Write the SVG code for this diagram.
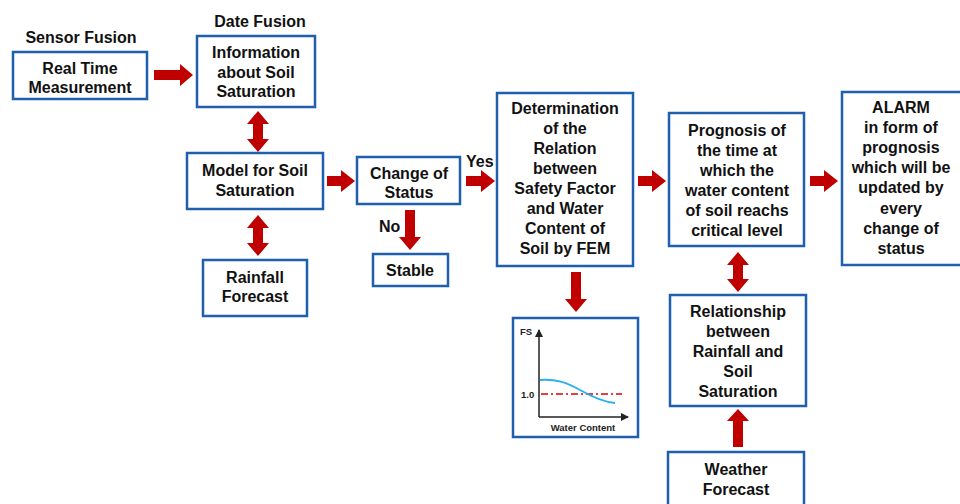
<svg xmlns="http://www.w3.org/2000/svg" width="960" height="504" viewBox="0 0 960 504">
<style>
.box{fill:#fff;stroke:#1f5fae;stroke-width:2.5}
.t{font-family:"Liberation Sans",Arial,sans-serif;font-weight:bold;font-size:16px;fill:#111;text-anchor:middle}
.lbl{font-family:"Liberation Sans",Arial,sans-serif;font-weight:bold;font-size:16px;fill:#111}
.arr{fill:#c00000}
.small{font-family:"Liberation Sans",Arial,sans-serif;font-weight:bold;font-size:9.5px;fill:#222}
</style>
<defs>
<marker id="ah" markerWidth="8" markerHeight="8" refX="7" refY="4" orient="auto" markerUnits="userSpaceOnUse"><path d="M0,0 L8,4 L0,8 Z" fill="#222"/></marker>
</defs>
<rect width="960" height="504" fill="#fff"/>
<text class="t" x="81" y="43">Sensor Fusion</text>
<text class="t" x="260" y="27">Date Fusion</text>
<g id="real-time">
<rect class="box" x="13" y="52" width="134" height="47"/>
<text class="t" x="80" y="74">Real Time</text>
<text class="t" x="80" y="93">Measurement</text>
</g>
<g id="info">
<rect class="box" x="197" y="36" width="118" height="71"/>
<text class="t" x="256" y="58">Information</text>
<text class="t" x="256" y="78">about Soil</text>
<text class="t" x="256" y="97">Saturation</text>
</g>
<g id="model">
<rect class="box" x="187" y="153" width="136" height="56"/>
<text class="t" x="255" y="176">Model for Soil</text>
<text class="t" x="255" y="196">Saturation</text>
</g>
<g id="rainfall">
<rect class="box" x="203" y="260" width="104" height="56"/>
<text class="t" x="255" y="283">Rainfall</text>
<text class="t" x="255" y="302">Forecast</text>
</g>
<g id="change">
<rect class="box" x="357" y="157" width="103" height="47"/>
<text class="t" x="409" y="179">Change of</text>
<text class="t" x="409" y="198">Status</text>
</g>
<g id="stable">
<rect class="box" x="373" y="254" width="75" height="32"/>
<text class="t" x="410" y="276">Stable</text>
</g>
<g id="determination">
<rect class="box" x="497" y="93" width="136" height="173"/>
<text class="t" x="565" y="114">Determination</text>
<text class="t" x="565" y="134">of the</text>
<text class="t" x="565" y="154">Relation</text>
<text class="t" x="565" y="174">between</text>
<text class="t" x="565" y="194">Safety Factor</text>
<text class="t" x="565" y="214">and Water</text>
<text class="t" x="565" y="234">Content of</text>
<text class="t" x="565" y="254">Soil by FEM</text>
</g>
<g id="chart">
<rect class="box" x="513" y="318" width="125" height="119"/>
<line x1="539" y1="417" x2="539" y2="330" stroke="#222" stroke-width="1.5" marker-end="url(#ah)"/>
<line x1="539" y1="417" x2="628" y2="417" stroke="#222" stroke-width="1.5" marker-end="url(#ah)"/>
<line x1="541" y1="394" x2="622" y2="394" stroke="#e00000" stroke-width="1.6" stroke-dasharray="7,3,2,3"/>
<path d="M540,380 C556,379 566,382 580,390 C594,398 604,402 615,403" fill="none" stroke="#2ab0ee" stroke-width="2"/>
<text class="small" x="520" y="335">FS</text>
<text class="small" x="521" y="398">1.0</text>
<text class="small" x="583" y="431" text-anchor="middle">Water Content</text>
</g>
<g id="prognosis">
<rect class="box" x="669" y="113" width="135" height="133"/>
<text class="t" x="737" y="136">Prognosis of</text>
<text class="t" x="737" y="156">the time at</text>
<text class="t" x="737" y="176">which the</text>
<text class="t" x="737" y="196">water content</text>
<text class="t" x="737" y="216">of soil reachs</text>
<text class="t" x="737" y="236">critical level</text>
</g>
<g id="relationship">
<rect class="box" x="670" y="295" width="136" height="111"/>
<text class="t" x="738" y="317">Relationship</text>
<text class="t" x="738" y="337">between</text>
<text class="t" x="738" y="357">Rainfall and</text>
<text class="t" x="738" y="377">Soil</text>
<text class="t" x="738" y="397">Saturation</text>
</g>
<g id="weather">
<rect class="box" x="668" y="452" width="136" height="60"/>
<text class="t" x="736" y="475">Weather</text>
<text class="t" x="736" y="495">Forecast</text>
</g>
<g id="alarm">
<rect class="box" x="842" y="92" width="130" height="173"/>
<text class="t" x="901" y="113">ALARM</text>
<text class="t" x="901" y="133">in form of</text>
<text class="t" x="901" y="153">prognosis</text>
<text class="t" x="901" y="173">which will be</text>
<text class="t" x="901" y="193">updated by</text>
<text class="t" x="901" y="214">every</text>
<text class="t" x="901" y="234">change of</text>
<text class="t" x="901" y="254">status</text>
</g>
<g id="connectors">
<polygon class="arr" points="154,70 180,70 180,64 193,75 180,86 180,80 154,80"/>
<polygon class="arr" points="258,111 269,124 263,124 263,139 269,139 258,152 247,139 253,139 253,124 247,124"/>
<polygon class="arr" points="258,215 269,228 263,228 263,243 269,243 258,256 247,243 253,243 253,228 247,228"/>
<polygon class="arr" points="327,176 341,176 341,170 355,181 341,192 341,186 327,186"/>
<polygon class="arr" points="466,176 481,176 481,170 495,181 481,192 481,186 466,186"/>
<polygon class="arr" points="405,210 415,210 415,237 421,237 410,250 399,237 405,237"/>
<polygon class="arr" points="571,272 581,272 581,299 587,299 576,312 565,299 571,299"/>
<polygon class="arr" points="638,176 652,176 652,170 666,181 652,192 652,186 638,186"/>
<polygon class="arr" points="810,176 824,176 824,170 838,181 824,192 824,186 810,186"/>
<polygon class="arr" points="738,252 749,265 743,265 743,279 749,279 738,292 727,279 733,279 733,265 727,265"/>
<polygon class="arr" points="733,447 743,447 743,421 749,421 738,409 727,421 733,421"/>
<text class="lbl" x="466" y="167">Yes</text>
<text class="lbl" x="379" y="232">No</text>
</g>
</svg>
